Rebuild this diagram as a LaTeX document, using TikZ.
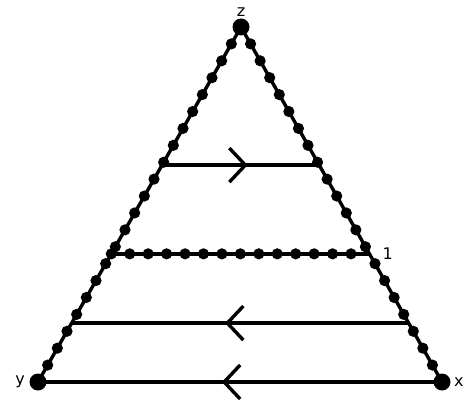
\documentclass[tikz,border=0pt]{standalone}
\usepackage{fontspec}
\setmainfont{DejaVu Sans}
\usetikzlibrary{arrows.meta,calc,decorations.markings}
\tikzset{edge/.style={line width=3.4pt},
  flow/.style={edge, postaction={decorate},
    decoration={markings, mark=at position 0.545 with {\arrow[line width=3.4pt]{Straight Barb[length=16pt,width=34pt]}}}},
  bead/.style={fill=black},
  lbl/.style={font=\fontsize{16}{18}\selectfont, inner sep=1pt}}
\newcommand{\beads}[3]{\foreach \i in {1,...,#3} {\fill[bead] ($(#1)!{\i/(#3+1)}!(#2)$) circle (5.6pt);}}

\begin{document}
\begin{tikzpicture}[x=1pt,y=-1pt]
  \useasboundingbox (0,0) rectangle (465,403);
  % corners
  \coordinate (z) at (241,27);
  \coordinate (y) at (38,382);
  \coordinate (x) at (442,382);
  % side points of the horizontal lines
  \coordinate (a1) at ($(z)!0.389!(y)$);
  \coordinate (a2) at ($(z)!0.389!(x)$);
  \coordinate (b1) at ($(z)!0.639!(y)$);
  \coordinate (b2) at ($(z)!0.639!(x)$);
  \coordinate (c1) at ($(z)!0.834!(y)$);
  \coordinate (c2) at ($(z)!0.834!(x)$);
  % sides
  \draw[edge] (y) -- (z) -- (x);
  \beads{z}{y}{20}
  \beads{z}{x}{20}
  % horizontal lines
  \draw[flow] (a1) -- (a2);
  \draw[edge] (b1) -- (b2);
  \fill[bead] (b1) circle (5.6pt);
  \beads{b1}{b2}{13}
  \draw[flow] (c2) -- (c1);
  \draw[flow] (x) -- (y);
  % end points
  \fill (z) circle (8.5pt);
  \fill (y) circle (8.5pt);
  \fill (x) circle (8.5pt);
  % labels
  \node[lbl, above=9pt] (zl) at (z) {z};
  \node[lbl, left=12pt] (yl) at (y) {y};
  \node[lbl, right=11pt] (xl) at (x) {x};
  \node[lbl, right=12pt] (one) at (b2) {1};
\end{tikzpicture}
\end{document}
